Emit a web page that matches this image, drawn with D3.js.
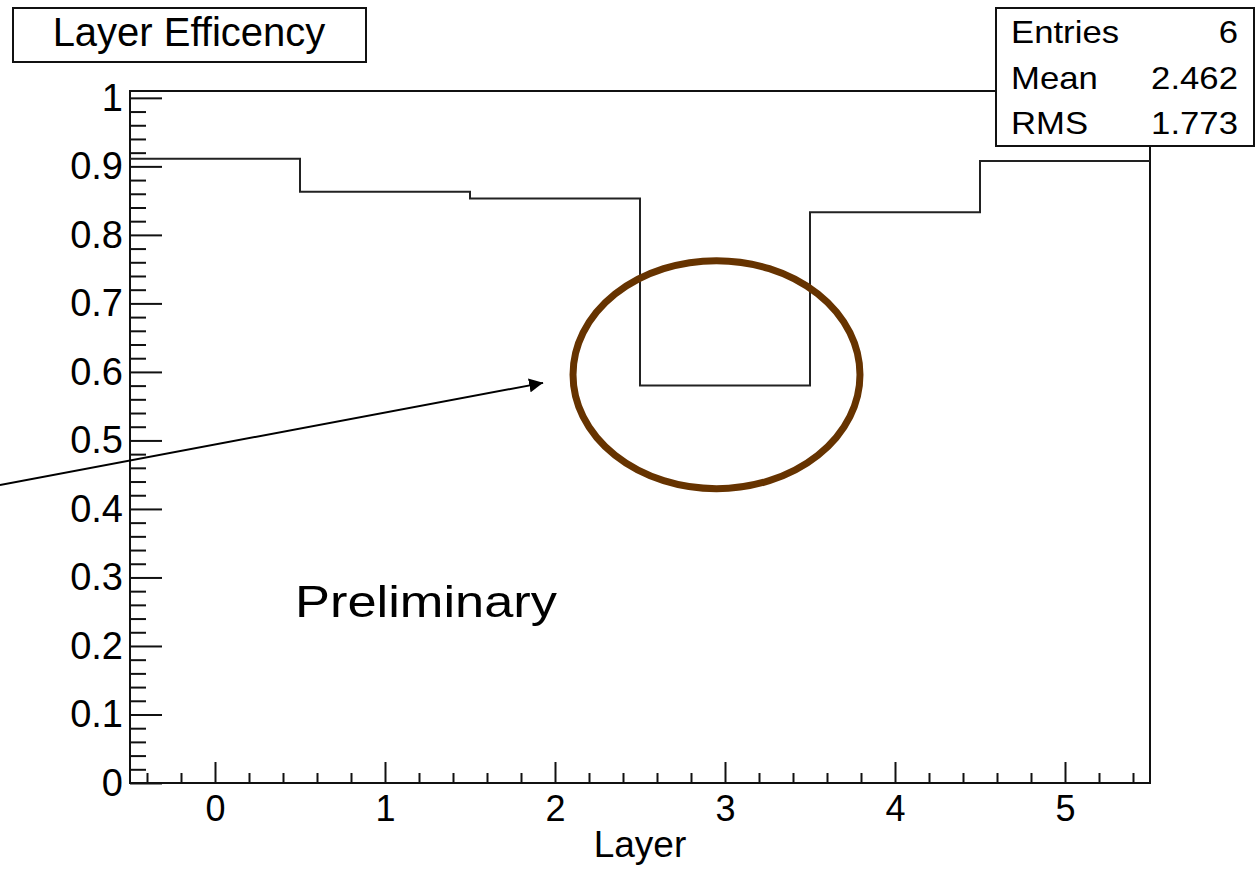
<!DOCTYPE html>
<html>
<head>
<meta charset="utf-8">
<script src="https://cdn.jsdelivr.net/npm/d3@7"></script>
<style>
  html, body { margin: 0; padding: 0; background: #fff; }
  svg { display: block; font-family: "Liberation Sans", Arial, Helvetica, sans-serif; }
</style>
</head>
<body>
<svg id="chart"></svg>
<script>
// histogram contents, one bin per layer
const layers = [0, 1, 2, 3, 4, 5]
const efficiency = [0.911, 0.863, 0.853, 0.580, 0.833, 0.908]

const yTickValues = [0, 0.1, 0.2, 0.3, 0.4, 0.5, 0.6, 0.7, 0.8, 0.9, 1]
const yTickLabels = ['0', '0.1', '0.2', '0.3', '0.4', '0.5', '0.6', '0.7', '0.8', '0.9', '1']
const xTickValues = [0, 1, 2, 3, 4, 5]
const xTickLabels = ['0', '1', '2', '3', '4', '5']

const statLabels = ['Entries', 'Mean', 'RMS']
const statValues = ['6', '2.462', '1.773']

const svgWidth = 1256
const svgHeight = 869
const margin = { top: 91, right: 106, bottom: 86, left: 130 }

const svg = d3.select('#chart')
  .attr('width', svgWidth)
  .attr('height', svgHeight)

const x = d3.scaleLinear().domain([-0.5, 5.5]).range([margin.left, svgWidth - margin.right])
const y = d3.scaleLinear().domain([0, 1.01]).range([svgHeight - margin.bottom, margin.top])

// minor ticks (ROOT style, inside the frame)
const yMinor = d3.range(0, 1.0001, 0.02).filter(v => Math.abs(v * 10 - Math.round(v * 10)) > 1e-6)
const xMinor = d3.range(-0.4, 5.45, 0.2).filter(v => Math.abs(v - Math.round(v)) > 1e-6)

const tickStyle = sel => {
  sel.select('.domain').remove()
  sel.selectAll('line').attr('stroke', '#111').attr('stroke-width', 2)
}

svg.append('g')
  .attr('transform', `translate(${x(-0.5)},0)`)
  .call(d3.axisLeft(y).tickValues(yMinor).tickSize(-16).tickFormat(''))
  .call(tickStyle)

svg.append('g')
  .attr('transform', `translate(${x(-0.5)},0)`)
  .call(d3.axisLeft(y).tickValues(yTickValues).tickSize(-32).tickPadding(7)
    .tickFormat((d, i) => yTickLabels[i]))
  .call(tickStyle)
  .call(g => g.selectAll('text').attr('font-size', 38).attr('fill', '#000')
    .attr('font-family', '"Liberation Sans", Arial, sans-serif'))

svg.append('g')
  .attr('transform', `translate(0,${y(0)})`)
  .call(d3.axisBottom(x).tickValues(xMinor).tickSize(-10).tickFormat(''))
  .call(tickStyle)

svg.append('g')
  .attr('transform', `translate(0,${y(0)})`)
  .call(d3.axisBottom(x).tickValues(xTickValues).tickSize(-21).tickPadding(12)
    .tickFormat((d, i) => xTickLabels[i]))
  .call(tickStyle)
  .call(g => g.selectAll('text').attr('font-size', 36).attr('fill', '#000')
    .attr('font-family', '"Liberation Sans", Arial, sans-serif'))

// frame
svg.append('rect')
  .attr('x', x(-0.5))
  .attr('y', y(1.01))
  .attr('width', x(5.5) - x(-0.5))
  .attr('height', y(0) - y(1.01))
  .attr('fill', 'none')
  .attr('stroke', '#111')
  .attr('stroke-width', 2)

// histogram as a step line
const steps = layers.map((l, i) => ({ edge: l - 0.5, value: efficiency[i] }))
steps.push({ edge: layers[layers.length - 1] + 0.5, value: efficiency[efficiency.length - 1] })

const line = d3.line()
  .x(d => x(d.edge))
  .y(d => y(d.value))
  .curve(d3.curveStepAfter)

svg.append('path')
  .datum(steps)
  .attr('fill', 'none')
  .attr('stroke', '#222')
  .attr('stroke-width', 2)
  .attr('d', line)

// axis title
svg.append('text')
  .attr('x', x(2.5))
  .attr('y', 857)
  .attr('text-anchor', 'middle')
  .attr('font-size', 37)
  .text('Layer')

// title box
const title = svg.append('g')
title.append('rect')
  .attr('x', 13).attr('y', 8).attr('width', 353).attr('height', 54)
  .attr('fill', '#fff').attr('stroke', '#111').attr('stroke-width', 2)
title.append('text')
  .attr('x', 189).attr('y', 46)
  .attr('text-anchor', 'middle')
  .attr('font-size', 40)
  .text('Layer Efficency')

// stats box
const stats = svg.append('g')
stats.append('rect')
  .attr('x', 996).attr('y', 8).attr('width', 258).attr('height', 138)
  .attr('fill', '#fff').attr('stroke', '#111').attr('stroke-width', 2)
statLabels.forEach((label, i) => {
  const base = 43 + i * 45.5
  stats.append('text')
    .attr('transform', `translate(1011,${base}) scale(1.12,1)`)
    .attr('font-size', 31)
    .text(label)
  stats.append('text')
    .attr('transform', `translate(1238,${base}) scale(1.12,1)`)
    .attr('text-anchor', 'end')
    .attr('font-size', 31)
    .text(statValues[i])
})

// annotations drawn on top
svg.append('text')
  .attr('x', 295)
  .attr('y', 617)
  .attr('font-size', 44)
  .attr('textLength', 262)
  .attr('lengthAdjust', 'spacingAndGlyphs')
  .text('Preliminary')

svg.append('ellipse')
  .attr('cx', x(2.95))
  .attr('cy', y(0.596))
  .attr('rx', x(2.95 + 0.844) - x(2.95))
  .attr('ry', y(0.596) - y(0.596 + 0.1664))
  .attr('fill', 'none')
  .attr('stroke', '#663300')
  .attr('stroke-width', 7)

svg.append('defs').append('marker')
  .attr('id', 'head')
  .attr('viewBox', '0 0 10 10')
  .attr('refX', 10).attr('refY', 5)
  .attr('markerWidth', 7).attr('markerHeight', 7)
  .attr('markerUnits', 'strokeWidth')
  .attr('orient', 'auto')
  .append('path')
  .attr('d', 'M0,0 L10,5 L0,10 Z')
  .attr('fill', '#000')

svg.append('line')
  .attr('x1', x(-1.265)).attr('y1', y(0.435))
  .attr('x2', x(1.93)).attr('y2', y(0.584))
  .attr('stroke', '#000')
  .attr('stroke-width', 2)
  .attr('marker-end', 'url(#head)')
</script>
</body>
</html>
